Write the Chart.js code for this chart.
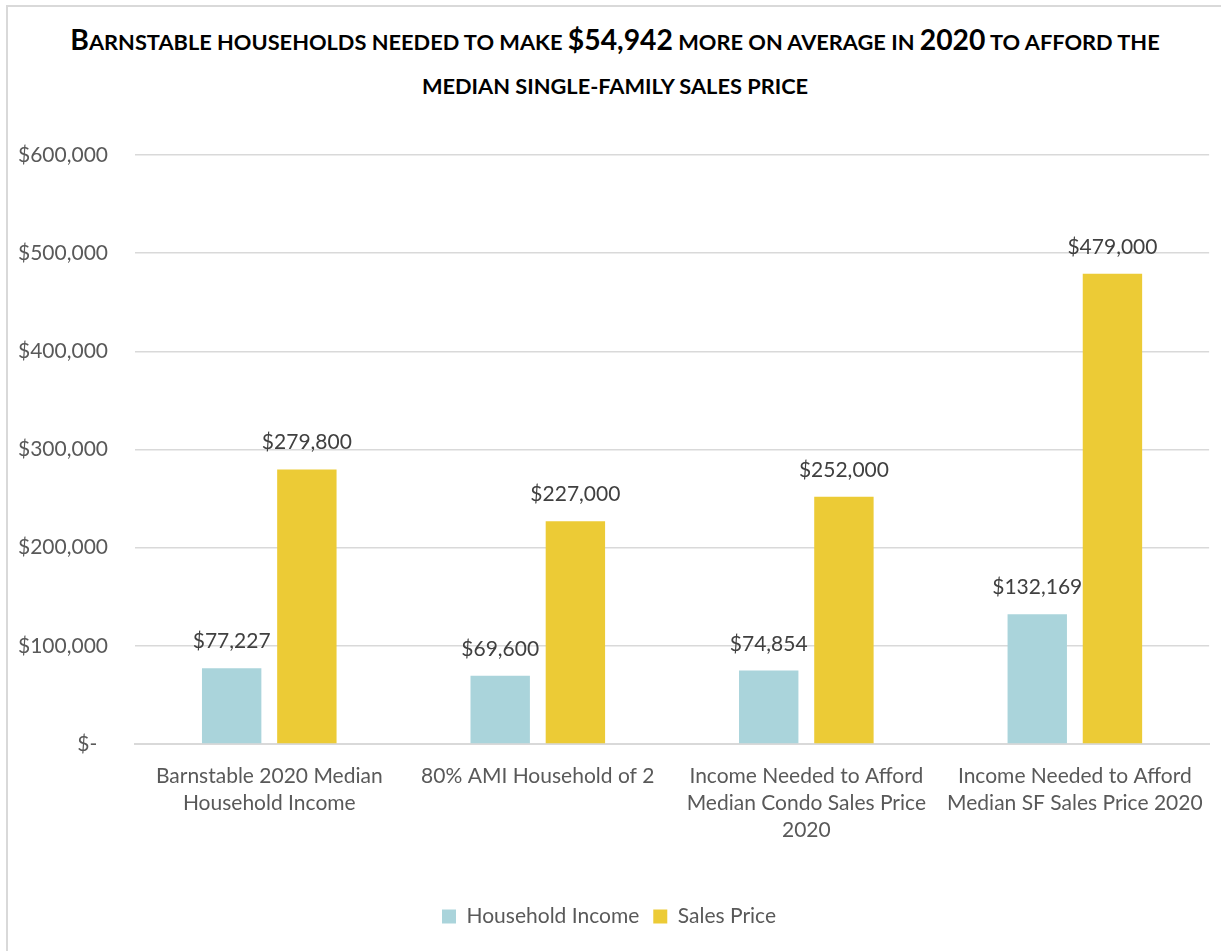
<!DOCTYPE html>
<html>
<head>
<meta charset="utf-8">
<script src="https://cdn.jsdelivr.net/npm/chart.js@4/dist/chart.umd.min.js"></script>
<style>
  html, body { margin: 0; padding: 0; background: #fff; overflow: hidden; }
  #frame {
    position: absolute; left: 6px; top: 5px; width: 1400px; height: 1100px;
    border: 2px solid #d9d9d9; box-sizing: border-box;
  }
  #title {
    position: absolute; left: 0; top: 0; width: 1230px; text-align: center;
    font-family: Lato, "Open Sans", sans-serif; font-weight: 700; color: #000;
  }
  #title .line { position: absolute; left: 0; width: 100%; white-space: nowrap; }
  #title .big { font-size: 28.3px; }
  #title .sc { font-size: 21.8px; }
  #chartWrap { position: absolute; left: 0; top: 0; width: 1221px; height: 951px; }
</style>
</head>
<body>
<div id="frame"></div>
<div id="title">
  <div class="line" style="top: 22px;"><span class="big">B</span><span class="sc">ARNSTABLE HOUSEHOLDS NEEDED TO MAKE </span><span class="big">$54,942</span><span class="sc"> MORE ON AVERAGE IN </span><span class="big">2020</span><span class="sc"> TO AFFORD THE</span></div>
  <div class="line" style="top: 72px;"><span class="sc">MEDIAN SINGLE-FAMILY SALES PRICE</span></div>
</div>
<div id="chartWrap"><canvas id="barChart" width="1221" height="951"></canvas></div>
<script>
const categories = [
    ['Barnstable 2020 Median', 'Household Income'],
    ['80% AMI Household of 2'],
    ['Income Needed to Afford', 'Median Condo Sales Price', '2020'],
    ['Income Needed to Afford', 'Median SF Sales Price 2020']
];
const householdIncome = [77227, 69600, 74854, 132169];
const salesPrice = [279800, 227000, 252000, 479000];
const yTicks = [0, 100000, 200000, 300000, 400000, 500000, 600000];

const labelFont = { family: 'Lato, "Open Sans", sans-serif', size: 21 };
const textColor = '#595959';

const money = (v) => '$' + v.toLocaleString('en-US');

// value labels over each bar
const barValues = {
    id: 'barValues',
    afterDatasetsDraw(chart) {
        const ctx = chart.ctx;
        ctx.save();
        ctx.font = `${labelFont.size}px ${labelFont.family}`;
        ctx.fillStyle = '#404040';
        ctx.textAlign = 'center';
        ctx.textBaseline = 'alphabetic';
        chart.data.datasets.forEach((ds, i) => {
            chart.getDatasetMeta(i).data.forEach((bar, j) => {
                ctx.fillText(money(ds.data[j]), bar.x, bar.y - 20);
            });
        });
        ctx.restore();
    }
};

new Chart('barChart', {
    type: 'bar',
    data: {
        labels: categories,
        datasets: [{
            label: 'Household Income',
            data: householdIncome,
            backgroundColor: '#aad4db'
        }, {
            label: 'Sales Price',
            data: salesPrice,
            backgroundColor: '#eccb36'
        }]
    },
    options: {
        responsive: false,
        animation: false,
        layout: { padding: { top: 155, right: 3, left: 0, bottom: 14 } },
        datasets: {
            bar: { categoryPercentage: 0.56, barPercentage: 0.79 }
        },
        scales: {
            x: {
                afterFit(scale) { scale.height += 30; },
                grid: { display: false, drawTicks: false },
                border: { display: true, color: '#d9d9d9', width: 2 },
                ticks: {
                    font: { ...labelFont, lineHeight: 1.3 },
                    color: textColor,
                    padding: 18,
                    maxRotation: 0,
                    autoSkip: false
                }
            },
            y: {
                min: 0,
                max: 600000,
                afterFit(scale) { scale.width = 135; },
                afterBuildTicks(scale) {
                    scale.ticks = yTicks.map(v => ({ value: v }));
                },
                grid: { color: '#d9d9d9', lineWidth: 1.5, drawTicks: false },
                border: { display: false },
                ticks: {
                    font: labelFont,
                    color: textColor,
                    padding: 27,
                    callback: (v) => v === 0 ? '$-  ' : money(v)
                }
            }
        },
        plugins: {
            legend: {
                position: 'bottom',
                labels: {
                    font: labelFont,
                    color: textColor,
                    boxWidth: 14,
                    boxHeight: 14,
                    padding: 14
                }
            },
            tooltip: { enabled: false },
            title: { display: false }
        }
    },
    plugins: [barValues]
});
</script>
</body>
</html>
